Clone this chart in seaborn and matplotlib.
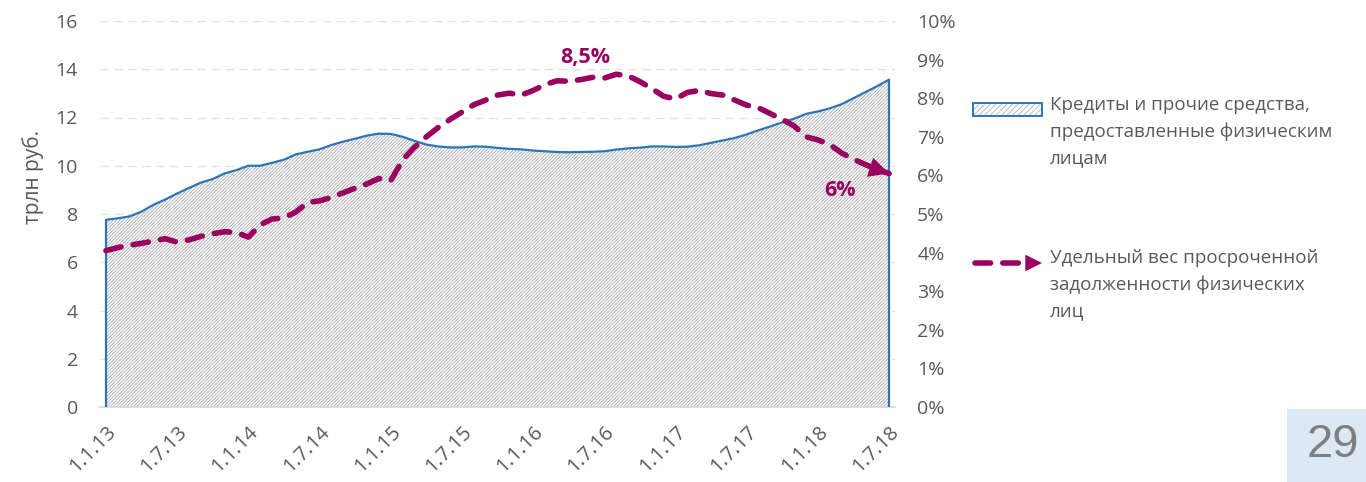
import matplotlib
matplotlib.use("Agg")
import matplotlib.pyplot as plt
import numpy as np
import pandas as pd
import seaborn as sns
from matplotlib.lines import Line2D
from matplotlib.patches import Rectangle

# monthly values, 1.1.13 .. 1.7.18
credits = [
    7.76, 7.82, 7.90, 8.10, 8.38, 8.60, 8.85, 9.08, 9.30, 9.45, 9.68, 9.82,
    10.00, 10.00, 10.12, 10.25, 10.47, 10.58, 10.68, 10.86, 11.00, 11.12, 11.25, 11.33,
    11.32, 11.20, 11.03, 10.88, 10.80, 10.76, 10.76, 10.80, 10.79, 10.74, 10.70, 10.68,
    10.63, 10.60, 10.57, 10.56, 10.57, 10.58, 10.60, 10.67, 10.72, 10.75, 10.80, 10.80,
    10.78, 10.79, 10.85, 10.95, 11.05, 11.15, 11.30, 11.47, 11.63, 11.80, 11.95, 12.15,
    12.25, 12.38, 12.55, 12.80, 13.05, 13.30, 13.57,
]
overdue_pct = [
    4.05, 4.13, 4.19, 4.24, 4.30, 4.36, 4.27, 4.33, 4.42, 4.49, 4.54, 4.52,
    4.40, 4.72, 4.87, 4.90, 5.05, 5.30, 5.34, 5.43, 5.55, 5.67, 5.78, 5.92,
    5.86, 6.40, 6.73, 7.00, 7.24, 7.45, 7.64, 7.83, 7.95, 8.08, 8.13, 8.08,
    8.20, 8.35, 8.45, 8.44, 8.48, 8.54, 8.52, 8.62, 8.58, 8.43, 8.25, 8.05,
    7.98, 8.15, 8.20, 8.12, 8.08, 7.95, 7.82, 7.75, 7.60, 7.45, 7.28, 7.00,
    6.92, 6.80, 6.58, 6.42, 6.28, 6.15, 6.05,
]
tick_labels = ["1.1.13", "1.7.13", "1.1.14", "1.7.14", "1.1.15", "1.7.15",
               "1.1.16", "1.7.16", "1.1.17", "1.7.17", "1.1.18", "1.7.18"]
left_ticks = [0, 2, 4, 6, 8, 10, 12, 14, 16]
right_ticks = [0, 1, 2, 3, 4, 5, 6, 7, 8, 9, 10]

label_credits = "Кредиты и прочие средства,\nпредоставленные физическим\nлицам"
label_overdue = "Удельный вес просроченной\nзадолженности физических\nлиц"
peak_label, end_label = "8,5%", "6%"

BLUE = "#2e75b6"
PLUM = "#990060"
TEXT = "#595959"

sns.set_theme(style="white")
plt.rcParams["font.family"] = ["Open Sans", "DejaVu Sans"]
plt.rcParams["hatch.linewidth"] = 0.6

df = pd.DataFrame({"month": np.arange(len(credits)),
                   "credits": credits,
                   "overdue": np.array(overdue_pct) / 100})

fig = plt.figure(figsize=(13.66, 4.82), dpi=100)
ax = fig.add_axes([100 / 1366, 1 - 407 / 482, 795 / 1366, 386 / 482])
ax2 = ax.twinx()

# hatched area + blue outline
ax.fill_between(df["month"], 0, df["credits"], facecolor="white",
                edgecolor="#a8a8a8", linewidth=0, hatch="//////////", zorder=1)
sns.lineplot(data=df, x="month", y="credits", ax=ax, color=BLUE, lw=1.6, zorder=3)
ax.vlines([df["month"].iloc[0], df["month"].iloc[-1]], 0,
          [df["credits"].iloc[0], df["credits"].iloc[-1]], color=BLUE, lw=1.6, zorder=3)

# dashed overdue share with arrow head
sns.lineplot(data=df, x="month", y="overdue", ax=ax2, color=PLUM, lw=4.0,
             dashes=False, zorder=4)
ln = ax2.lines[-1]
ln.set_linestyle((0, (2.8, 2.2)))
ln.set_dash_capstyle("round")
ax2.annotate("", xy=(df["month"].iloc[-1], df["overdue"].iloc[-1]),
             xytext=(df["month"].iloc[-2], df["overdue"].iloc[-2]),
             arrowprops=dict(arrowstyle="-|>", color=PLUM, lw=0, mutation_scale=36,
                             shrinkA=0, shrinkB=0))

peak_i = int(np.argmax(overdue_pct[30:50])) + 30
ax2.annotate(peak_label, xy=(peak_i, df["overdue"].max()), xytext=(-22, 12),
             textcoords="offset points", ha="center", va="center",
             color=PLUM, fontsize=15.5, fontweight="bold")
ax2.annotate(end_label, xy=(df["month"].iloc[-1], df["overdue"].iloc[-1]),
             xytext=(-35, -12), textcoords="offset points", ha="center",
             va="center", color=PLUM, fontsize=15.5, fontweight="bold")

# axes
ax.set_xlim(-0.5, len(credits) - 0.5)
ax.set_ylim(0, 16)
ax2.set_ylim(0, 0.10)
ax.set_yticks(left_ticks)
ax.set_yticklabels([str(t) for t in left_ticks])
ax2.set_yticks([t / 100 for t in right_ticks])
ax2.set_yticklabels([f"{t}%" for t in right_ticks])
ax.set_xticks(np.arange(0, len(credits), 6))
ax.set_xticklabels(tick_labels, rotation=45, ha="right", rotation_mode="anchor")
ax.set_xlabel("")
ax.set_ylabel("")
ax2.set_ylabel("")

for y in left_ticks[1:]:
    ax.axhline(y, color="#e3e3e3", lw=1.0, ls=(0, (6, 4)), zorder=0)

for a in (ax, ax2):
    for s in a.spines.values():
        s.set_visible(False)
ax.spines["bottom"].set_visible(True)
ax.spines["bottom"].set_color("#d0d7e0")
ax.spines["bottom"].set_linewidth(1.2)
ax.tick_params(axis="y", length=0, pad=16, labelsize=14, labelcolor=TEXT)
ax.tick_params(axis="x", length=0, pad=11, labelsize=14.5, labelcolor=TEXT)
ax2.tick_params(axis="y", length=0, pad=16, labelsize=14, labelcolor=TEXT)

fig.text(33 / 1366, 1 - 177 / 482, "трлн руб.", rotation=90, ha="center",
         va="center", fontsize=15, color=TEXT)

# legend drawn in figure coords
fig.patches.append(Rectangle((973 / 1366, 1 - 116 / 482), 69 / 1366, 13 / 482,
                             transform=fig.transFigure, facecolor="white",
                             edgecolor="#b0b0b0", lw=0, hatch="//////", figure=fig))
fig.patches.append(Rectangle((973 / 1366, 1 - 116 / 482), 69 / 1366, 13 / 482,
                             transform=fig.transFigure, facecolor="none",
                             edgecolor=BLUE, lw=1.4, figure=fig))
fig.lines.append(Line2D([975 / 1366, 1028 / 1366], [1 - 263 / 482] * 2,
                        transform=fig.transFigure, color=PLUM, lw=4.0,
                        ls=(0, (2.8, 2.2)), dash_capstyle="round", figure=fig))
plt.annotate("", xy=(1042 / 1366, 1 - 263 / 482), xytext=(1024 / 1366, 1 - 263 / 482),
             xycoords="figure fraction", textcoords="figure fraction",
             arrowprops=dict(arrowstyle="-|>", color=PLUM, lw=0, mutation_scale=30,
                             shrinkA=0, shrinkB=0))
fig.text(1050 / 1366, 1 - 96 / 482, label_credits, ha="left", va="top",
         fontsize=13.5, color=TEXT, linespacing=1.6)
fig.text(1050 / 1366, 1 - 249 / 482, label_overdue, ha="left", va="top",
         fontsize=13.5, color=TEXT, linespacing=1.6)

# page number box
fig.patches.append(Rectangle((1287 / 1366, 0), 79 / 1366, 73 / 482,
                             transform=fig.transFigure, facecolor="#dde8f5",
                             edgecolor="none", figure=fig))
fig.text(1333 / 1366, 1 - 445 / 482, "29", ha="center", va="center",
         fontsize=34, color="#7f7f7f", family=["Liberation Sans", "DejaVu Sans"])

fig.savefig("out.png", dpi=100, facecolor="white")
plt.close(fig)
